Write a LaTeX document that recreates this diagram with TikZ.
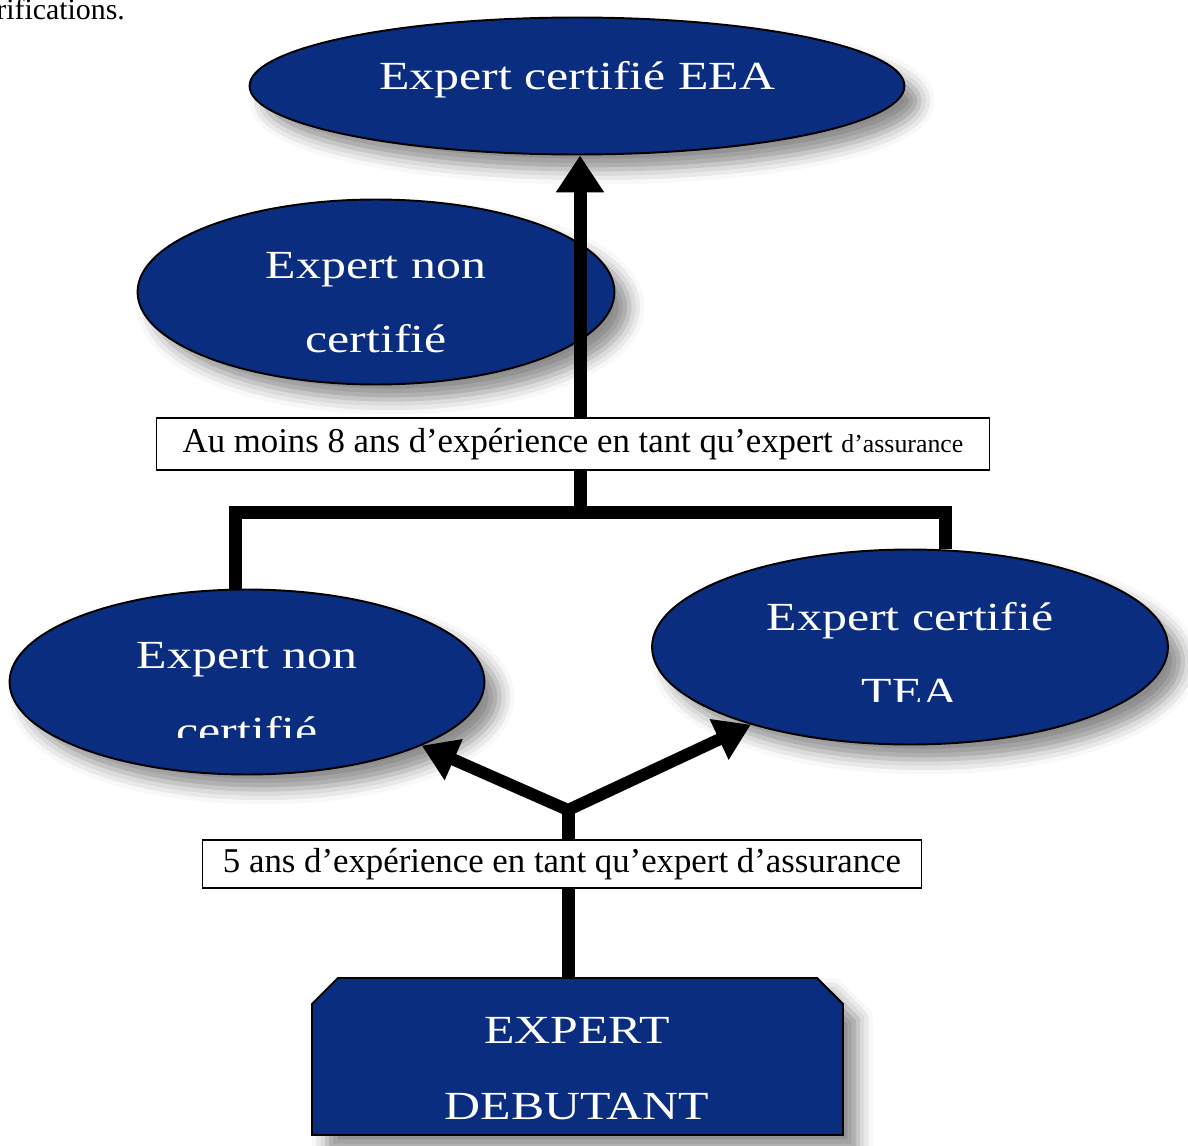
\documentclass[tikz,border=0pt]{standalone}
\usepackage{fontspec}
\setmainfont{Liberation Serif}
\newfontfamily\bubblefont[FakeStretch=1.25]{Liberation Serif}
\usepackage{xcolor}
\usetikzlibrary{arrows.meta,positioning,calc,shapes.geometric,shapes.misc,shadows.blur}
\definecolor{eeNavy}{HTML}{0B2D80}
\definecolor{ink}{HTML}{000000}

\begin{document}
\begin{tikzpicture}[x=0.02cm,y=-0.02cm,
  softshadow/.style={blur shadow={shadow xshift=0.3cm,shadow yshift=-0.3cm,shadow blur radius=0.3cm,shadow opacity=45}},
  bubble/.style={ellipse,draw=ink,line width=1.1pt,fill=eeNavy,inner sep=0pt,softshadow},
  bubbletext/.style={font=\bubblefont\fontsize{22.7}{27}\selectfont,text=white,anchor=base,inner sep=0pt},
  notebox/.style={draw=ink,line width=0.8pt,fill=white,inner sep=0pt,font=\fontsize{19.8}{24}\selectfont},
  link/.style={ink,line width=0.26cm},
  linkarrow/.style={link,-{Triangle[width=0.92cm,length=0.74cm]}},
  forkarrow/.style={ink,line width=0.24cm,{Triangle[width=0.85cm,length=0.7cm]}-{Triangle[width=0.85cm,length=0.7cm]}}]
\useasboundingbox (0,0) rectangle (1188,1146);
% cut-off line above the chart
\node[anchor=base west,inner sep=0pt,font=\fontsize{17}{20}\selectfont] (cut) at (-4,19) {rifications.};
% levels
\node[bubble,minimum width=13.1cm,minimum height=2.74cm] (eea) at (577,86) {};
\node[bubbletext] (eeaT) at (577,90) {Expert certifié EEA};
\node[bubble,minimum width=9.54cm,minimum height=3.7cm] (upnc) at (376,292) {};
\node[bubbletext] (upncA) at (376,278) {Expert non};
\node[bubbletext] (upncB) at (376,352) {certifié};
\node[bubble,minimum width=9.5cm,minimum height=3.7cm] (lownc) at (247,682) {};
\node[bubbletext] (lowncA) at (247,668) {Expert non};
\begin{scope}
  \clip (100,690) rectangle (400,737);
  \node[bubbletext] (lowncB) at (247,744) {certifié};
\end{scope}
\node[bubble,minimum width=10.32cm,minimum height=3.9cm] (tea) at (910,647) {};
\node[bubbletext] (teaA) at (910,630) {Expert certifié};
\begin{scope}
  \clip (800,660) rectangle (1020,701);
  \node[bubbletext] (teaB) at (910,705) {TEA};
\end{scope}
% starting level: box with cut top corners
\draw[ink,line width=1.1pt,fill=eeNavy,softshadow]
  (312,1004) -- (338,978) -- (817,978) -- (843,1004) -- (843,1135) -- (312,1135) -- cycle;
\coordinate (dbt) at (577,978);
\node[bubbletext] (dbtA) at (577,1043) {EXPERT};
\node[bubbletext] (dbtB) at (577,1119) {DEBUTANT};
% conditions
\node[notebox,minimum width=16.66cm,minimum height=1.04cm] (cond8) at (573,444)
  {Au moins 8 ans d’expérience en tant qu’expert {\fontsize{14.7}{18}\selectfont d’assurance}};
\node[notebox,minimum width=14.38cm,minimum height=0.96cm] (cond5) at (562,864)
  {5 ans d’expérience en tant qu’expert d’assurance};
% connectors
\coordinate (hub) at (580,512);
\coordinate (fork) at (568,810);
\draw[linkarrow] (cond8.north -| hub) -- (hub |- eea.south);
\draw[link] (cond8.south -| hub) -- (hub);
\draw[link] (lownc.97) |- (hub) -| (tea.70);
\draw[link] (dbt -| fork) -- (cond5.south -| fork);
\draw[link] (cond5.north -| fork) -- (fork);
\draw[forkarrow] (lownc.340) -- (fork) -- (tea.206);
\end{tikzpicture}
\end{document}
